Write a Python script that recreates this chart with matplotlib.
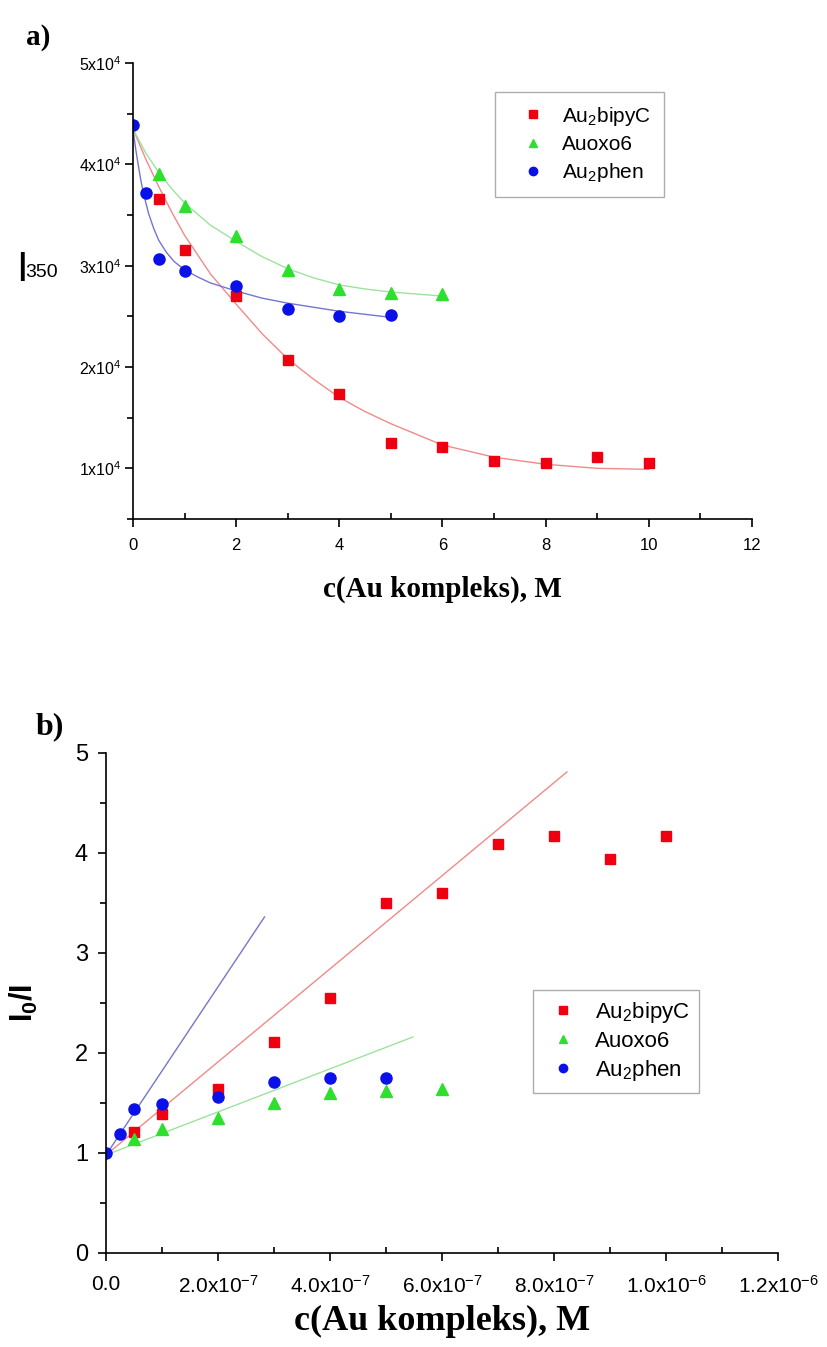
import matplotlib
matplotlib.use("Agg")
import matplotlib.pyplot as plt
from matplotlib.ticker import MultipleLocator, FixedLocator, FixedFormatter

plt.rcParams["font.family"] = ["Liberation Sans", "DejaVu Sans"]
plt.rcParams["mathtext.default"] = "regular"

# ---- panel a: I350 vs concentration (units of 1e-7 M) ----
a_bipy_x = [0.5, 1, 2, 3, 4, 5, 6, 7, 8, 9, 10]
a_bipy_y = [3.66e4, 3.15e4, 2.70e4, 2.07e4, 1.73e4, 1.25e4, 1.21e4, 1.07e4, 1.05e4, 1.11e4, 1.05e4]
a_oxo_x = [0.5, 1, 2, 3, 4, 5, 6]
a_oxo_y = [3.90e4, 3.59e4, 3.29e4, 2.96e4, 2.77e4, 2.73e4, 2.72e4]
a_phen_x = [0, 0.25, 0.5, 1, 2, 3, 4, 5]
a_phen_y = [4.39e4, 3.72e4, 3.07e4, 2.95e4, 2.80e4, 2.57e4, 2.50e4, 2.51e4]

# fitted decay curves
a_bipy_fit_x = [0, 0.25, 0.5, 0.75, 1, 1.5, 2, 2.5, 3, 3.5, 4, 4.5, 5, 6, 7, 8, 9, 10]
a_bipy_fit_y = [4.35e4, 4.05e4, 3.78e4, 3.53e4, 3.30e4, 2.92e4, 2.62e4, 2.33e4, 2.08e4,
                1.88e4, 1.70e4, 1.56e4, 1.44e4, 1.23e4, 1.11e4, 1.04e4, 1.00e4, 0.99e4]
a_oxo_fit_x = [0, 0.25, 0.5, 0.75, 1, 1.5, 2, 2.5, 3, 3.5, 4, 4.5, 5, 5.5, 6]
a_oxo_fit_y = [4.35e4, 4.11e4, 3.92e4, 3.76e4, 3.62e4, 3.40e4, 3.24e4, 3.09e4, 2.97e4,
               2.88e4, 2.81e4, 2.77e4, 2.74e4, 2.72e4, 2.70e4]
a_phen_fit_x = [0, 0.05, 0.1, 0.15, 0.2, 0.3, 0.4, 0.5, 0.65, 0.8, 1, 1.25, 1.5, 2, 2.5, 3, 4, 5]
a_phen_fit_y = [4.35e4, 4.16e4, 4.00e4, 3.85e4, 3.72e4, 3.52e4, 3.37e4, 3.25e4, 3.13e4,
                3.04e4, 2.96e4, 2.89e4, 2.83e4, 2.75e4, 2.68e4, 2.63e4, 2.55e4, 2.49e4]

a_yticks = [1e4, 2e4, 3e4, 4e4, 5e4]
a_yticklabels = ["1x10$^4$", "2x10$^4$", "3x10$^4$", "4x10$^4$", "5x10$^4$"]

# ---- panel b: Stern-Volmer I0/I vs concentration (M) ----
b_bipy_x = [0.5e-7, 1e-7, 2e-7, 3e-7, 4e-7, 5e-7, 6e-7, 7e-7, 8e-7, 9e-7, 10e-7]
b_bipy_y = [1.21, 1.39, 1.64, 2.11, 2.55, 3.50, 3.60, 4.09, 4.17, 3.94, 4.17]
b_oxo_x = [0.5e-7, 1e-7, 2e-7, 3e-7, 4e-7, 5e-7, 6e-7]
b_oxo_y = [1.14, 1.24, 1.35, 1.50, 1.60, 1.62, 1.64]
b_phen_x = [0, 0.25e-7, 0.5e-7, 1e-7, 2e-7, 3e-7, 4e-7, 5e-7]
b_phen_y = [1.00, 1.19, 1.44, 1.49, 1.56, 1.71, 1.75, 1.75]

# linear fits (end points)
b_bipy_fit_x = [0, 8.23e-7]
b_bipy_fit_y = [0.98, 4.81]
b_oxo_fit_x = [0, 5.48e-7]
b_oxo_fit_y = [0.98, 2.16]
b_phen_fit_x = [0, 2.83e-7]
b_phen_fit_y = [0.98, 3.36]

b_xticks = [0, 2e-7, 4e-7, 6e-7, 8e-7, 1e-6, 1.2e-6]
b_xticklabels = ["0.0", "2.0x10$^{-7}$", "4.0x10$^{-7}$", "6.0x10$^{-7}$",
                 "8.0x10$^{-7}$", "1.0x10$^{-6}$", "1.2x10$^{-6}$"]

labels = ["Au$_2$bipyC", "Auoxo6", "Au$_2$phen"]
RED = "#ee0010"
GREEN = "#2ee02e"
BLUE = "#0a10e8"
RED_FIT = "#f08a8a"
GREEN_FIT = "#9ee29e"
BLUE_FIT = "#7476cc"

serif = ["Liberation Serif", "DejaVu Serif"]

fig = plt.figure(figsize=(8.27, 13.47), dpi=100)


def style_axes(ax):
    for side in ["top", "right"]:
        ax.spines[side].set_visible(False)
    for side in ["left", "bottom"]:
        ax.spines[side].set_linewidth(1.2)
    ax.tick_params(axis="both", which="major", direction="out", length=6, width=1.2)
    ax.tick_params(axis="y", which="minor", direction="out", length=4, width=1.2)
    ax.tick_params(axis="x", which="minor", direction="in", length=4, width=1.2)


# panel a
ax1 = fig.add_axes([0.1608, 0.6147, 0.7485, 0.3385])
ax1.plot(a_bipy_fit_x, a_bipy_fit_y, color=RED_FIT, lw=1.0)
ax1.plot(a_oxo_fit_x, a_oxo_fit_y, color=GREEN_FIT, lw=1.0)
ax1.plot(a_phen_fit_x, a_phen_fit_y, color=BLUE_FIT, lw=1.0)
ax1.plot(a_bipy_x, a_bipy_y, "s", color=RED, ms=7, label=labels[0])
ax1.plot(a_oxo_x, a_oxo_y, "^", color=GREEN, ms=8, label=labels[1])
ax1.plot(a_phen_x, a_phen_y, "o", color=BLUE, ms=8, label=labels[2])
ax1.set_xlim(0, 12)
ax1.set_ylim(5000, 50000)
ax1.xaxis.set_major_locator(MultipleLocator(2))
ax1.xaxis.set_minor_locator(MultipleLocator(1))
ax1.yaxis.set_major_locator(FixedLocator(a_yticks))
ax1.yaxis.set_major_formatter(FixedFormatter(a_yticklabels))
ax1.yaxis.set_minor_locator(MultipleLocator(5000))
style_axes(ax1)
ax1.tick_params(axis="x", labelsize=12, pad=8)
ax1.tick_params(axis="y", labelsize=11.5, pad=2)
ax1.set_xlabel("c(Au kompleks), M", family=serif, weight="bold", fontsize=21, labelpad=16)
ax1.text(-0.189, 0.523, "I", transform=ax1.transAxes, fontsize=30, ha="left", va="baseline")
ax1.text(-0.174, 0.53, "350", transform=ax1.transAxes, fontsize=14, ha="left", va="baseline")
ax1.legend(loc="upper left", bbox_to_anchor=(0.585, 0.936), fontsize=15, frameon=True,
           fancybox=False, edgecolor="#999999", handletextpad=0.17, borderpad=0.6,
           labelspacing=0.35, handlelength=2.45, markerscale=0.75, borderaxespad=0)
fig.text(0.032, 0.967, "a)", family=serif, weight="bold", fontsize=21)

# panel b
ax2 = fig.add_axes([0.1282, 0.0698, 0.8126, 0.3712])
ax2.plot(b_bipy_fit_x, b_bipy_fit_y, color=RED_FIT, lw=1.0)
ax2.plot(b_oxo_fit_x, b_oxo_fit_y, color=GREEN_FIT, lw=1.0)
ax2.plot(b_phen_fit_x, b_phen_fit_y, color=BLUE_FIT, lw=1.0)
ax2.plot(b_bipy_x, b_bipy_y, "s", color=RED, ms=7, label=labels[0])
ax2.plot(b_oxo_x, b_oxo_y, "^", color=GREEN, ms=8, label=labels[1])
ax2.plot(b_phen_x, b_phen_y, "o", color=BLUE, ms=8, label=labels[2])
ax2.set_xlim(0, 1.2e-6)
ax2.set_ylim(0, 5)
ax2.xaxis.set_major_locator(FixedLocator(b_xticks))
ax2.xaxis.set_major_formatter(FixedFormatter(b_xticklabels))
ax2.xaxis.set_minor_locator(MultipleLocator(1e-7))
ax2.yaxis.set_major_locator(MultipleLocator(1))
ax2.yaxis.set_minor_locator(MultipleLocator(0.5))
style_axes(ax2)
ax2.tick_params(axis="x", labelsize=15, pad=10)
ax2.tick_params(axis="y", labelsize=17, pad=7)
ax2.set_xlabel("c(Au kompleks), M", family=serif, weight="bold", fontsize=26, labelpad=6)
ax2.set_ylabel("I$_0$/I", fontsize=22, weight="bold")
ax2.yaxis.set_label_coords(-0.098, 0.50)
ax2.legend(loc="upper left", bbox_to_anchor=(0.635, 0.526), fontsize=16, frameon=True,
           fancybox=False, edgecolor="#999999", handletextpad=0.54, borderpad=0.45,
           labelspacing=0.27, handlelength=1.8, markerscale=0.75, borderaxespad=0)
fig.text(0.043, 0.455, "b)", family=serif, weight="bold", fontsize=23)

fig.savefig("out.png", dpi=100)
